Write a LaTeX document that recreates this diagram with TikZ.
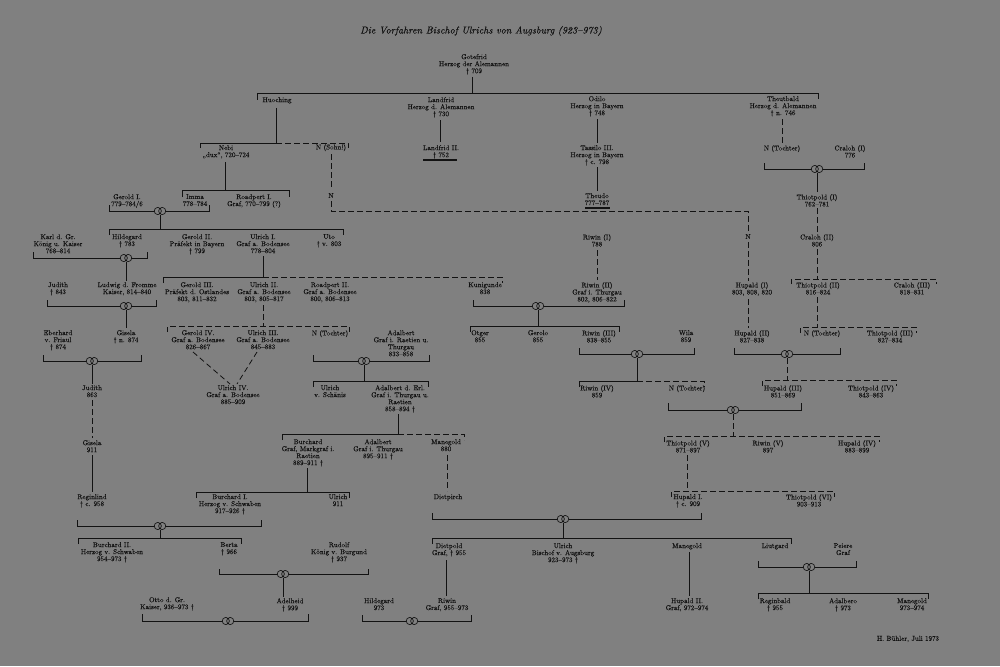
\documentclass[tikz,border=0pt]{standalone}
\usepackage{fontspec}
\newfontfamily\pf[FakeBold=0.3]{lmroman10-regular.otf}
\newfontfamily\pfi[FakeBold=0.2]{lmroman10-italic.otf}
\begin{document}
\begin{tikzpicture}[x=1pt,y=-1pt]
\definecolor{bg}{RGB}{128,128,128}
\definecolor{ink}{RGB}{18,18,18}
\tikzset{
  t/.style={anchor=north, align=center, inner sep=0pt, text=ink, yshift=3pt,
    font=\pf\fontsize{7}{7}\selectfont},
  ln/.style={draw=ink, line width=0.8pt},
  dsh/.style={draw=ink, line width=0.8pt, dash pattern=on 5.5pt off 3.5pt},
  ext/.style={draw=ink, line width=1.8pt},
  marr/.pic={
    \fill[bg] (-2.2,0) circle[radius=3.6pt] (2.2,0) circle[radius=3.6pt];
    \draw[ink,line width=0.65pt] (-2.2,0) circle[radius=3.6pt] (2.2,0) circle[radius=3.6pt];
  }
}
\fill[bg] (0,0) rectangle (1000,666);
\useasboundingbox (0,0) rectangle (1000,666);

\node[text=ink, font=\pfi\fontsize{10}{12}\selectfont] (title) at (481,31)
  {Die Vorfahren Bischof Ulrichs von Augsburg (923–973)};

% ---------- persons ----------
\node[t] (gotefrid) at (474,57) {Gotefrid\\Herzog der Alemannen\\† 709};
\node[t] (huoching) at (277,100) {Huoching};
\node[t] (nebi) at (226,148) {Nebi\\„dux“, 720–724};
\node[t] (nsohn) at (331,147) {N (Sohn!)};
\node[t] (n1) at (331,196) {N};
\node[t] (landfrid) at (441,100) {Landfrid\\Herzog d. Alemannen\\† 730};
\node[t] (landfrid2) at (441,148) {Landfrid II.\\† 752};
\node[t] (odilo) at (597,99) {Odilo\\Herzog in Bayern\\† 748};
\node[t] (tassilo) at (597,148) {Tassilo III.\\Herzog in Bayern\\† c. 798};
\node[t] (theudo) at (597,196) {Theudo\\777–787};
\node[t] (theutbald) at (783,99) {Theutbald\\Herzog d. Alemannen\\† n. 746};
\node[t] (ntochter1) at (782,148) {N (Tochter)};
\node[t] (craloh1) at (850,148) {Craloh (I)\\776};
\node[t] (thiot1) at (817,197) {Thiotpold (I)\\762–781};
\node[t] (imma) at (195,197) {Imma\\778–784};
\node[t] (gerold1) at (127,197) {Gerold I.\\779–784/6};
\node[t] (roadpert1) at (254,197) {Roadpert I.\\Graf, 770–799 (?)};
\node[t] (karl) at (58,237) {Karl d. Gr.\\König u. Kaiser\\768–814};
\node[t] (hildegard) at (127,237) {Hildegard\\† 783};
\node[t] (gerold2) at (197,237) {Gerold II.\\Präfekt in Bayern\\† 799};
\node[t] (ulrich1) at (263,237) {Ulrich I.\\Graf a. Bodensee\\778–804};
\node[t] (uto) at (329,237) {Uto\\† v. 803};
\node[t] (n2) at (748,237) {N};
\node[t] (riwin1) at (597,237) {Riwin (I)\\788};
\node[t] (craloh2) at (817,237) {Craloh (II)\\806};
\node[t] (judith1) at (58,285) {Judith\\† 843};
\node[t] (ludwig) at (127,285) {Ludwig d. Fromme\\Kaiser, 814–840};
\node[t] (gerold3) at (197,285) {Gerold III.\\Präfekt d. Ostlandes\\803, 811–832};
\node[t] (ulrich2) at (264,285) {Ulrich II.\\Graf a. Bodensee\\803, 805–817};
\node[t] (roadpert2) at (330,285) {Roadpert II.\\Graf a. Bodensee\\800, 806–813};
\node[t] (kunigunde) at (485,285) {Kunigunde\\838};
\node[t] (riwin2) at (597,285) {Riwin (II)\\Graf i. Thurgau\\802, 806–822};
\node[t] (hupald1) at (752,285) {Hupald (I)\\803, 808, 820};
\node[t] (thiot2) at (818,285) {Thiotpold (II)\\816–824};
\node[t] (craloh3) at (912,285) {Craloh (III)\\818–831};
\node[t] (eberhard) at (58,333) {Eberhard\\v. Friaul\\† 874};
\node[t] (gisela1) at (126,333) {Gisela\\† n. 874};
\node[t] (gerold4) at (198,333) {Gerold IV.\\Graf a. Bodensee\\826–867};
\node[t] (ulrich3) at (263,333) {Ulrich III.\\Graf a. Bodensee\\845–883};
\node[t] (ntochter2) at (330,333) {N (Tochter)};
\node[t] (adalbert1) at (401,333) {Adalbert\\Graf i. Raetien u.\\Thurgau\\833–858};
\node[t] (otger) at (480,333) {Otger\\855};
\node[t] (gerolo) at (538,333) {Gerolo\\855};
\node[t] (riwin3) at (599,333) {Riwin (III)\\838–855};
\node[t] (wila) at (686,333) {Wila\\859};
\node[t] (hupald2) at (752,333) {Hupald (II)\\827–838};
\node[t] (ntochter3) at (822,333) {N (Tochter)};
\node[t] (thiot3) at (890,333) {Thiotpold (III)\\827–834};
\node[t] (judith2) at (92,388) {Judith\\863};
\node[t] (ulrich4) at (233,388) {Ulrich IV.\\Graf a. Bodensee\\885–909};
\node[t] (ulrich5) at (330,388) {Ulrich\\v. Schänis};
\node[t] (adalbert2) at (400,388) {Adalbert d. Erl.\\Graf i. Thurgau u.\\Raetien\\858–894 †};
\node[t] (riwin4) at (597,388) {Riwin (IV)\\859};
\node[t] (ntochter4) at (687,388) {N (Tochter)};
\node[t] (hupald3) at (783,388) {Hupald (III)\\851–869};
\node[t] (thiot4) at (871,388) {Thiotpold (IV)\\843–863};
\node[t] (gisela2) at (92,443) {Gisela\\911};
\node[t] (burchard) at (308,442) {Burchard\\Graf, Markgraf i.\\Raetien\\889–911 †};
\node[t] (adalbert3) at (378,442) {Adalbert\\Graf i. Thurgau\\895–911 †};
\node[t] (manegold1) at (446,442) {Manegold\\880};
\node[t] (thiot5) at (688,443) {Thiotpold (V)\\871–897};
\node[t] (riwin5) at (768,443) {Riwin (V)\\897};
\node[t] (hupald4) at (857,443) {Hupald (IV)\\883–899};
\node[t] (reginlind) at (92,497) {Reginlind\\† c. 958};
\node[t] (burchard1) at (230,497) {Burchard I.\\Herzog v. Schwaben\\917–926 †};
\node[t] (ulrich6) at (338,497) {Ulrich\\911};
\node[t] (dietpirch) at (448,497) {Dietpirch};
\node[t] (hupaldI) at (688,497) {Hupald I.\\† c. 909};
\node[t] (thiot6) at (809,497) {Thiotpold (VI)\\903–913};
\node[t] (burchard2) at (112,545) {Burchard II.\\Herzog v. Schwaben\\954–973 †};
\node[t] (berta) at (229,545) {Berta\\† 966};
\node[t] (rudolf) at (339,545) {Rudolf\\König v. Burgund\\† 937};
\node[t] (dietpold) at (449,546) {Dietpold\\Graf, † 955};
\node[t] (ulrichB) at (563,546) {Ulrich\\Bischof v. Augsburg\\923–973 †};
\node[t] (manegold2) at (687,546) {Manegold};
\node[t] (liutgard) at (775,546) {Liutgard};
\node[t] (peiere) at (843,546) {Peiere\\Graf};
\node[t] (otto) at (167,600) {Otto d. Gr.\\Kaiser, 936–973 †};
\node[t] (adelheid) at (290,601) {Adelheid\\† 999};
\node[t] (hildegard2) at (379,601) {Hildegard\\973};
\node[t] (riwin6) at (447,601) {Riwin\\Graf, 955–973};
\node[t] (hupaldII) at (687,601) {Hupald II.\\Graf, 972–974};
\node[t] (reginbald) at (775,601) {Reginbald\\† 955};
\node[t] (adalbero) at (843,601) {Adalbero\\† 973};
\node[t] (manegold3) at (912,601) {Manegold\\973–974};
\node[t, anchor=center, yshift=0pt] (buehler) at (908,642) {H. Bühler, Juli 1973};

% ---------- lines ----------
\draw[ln] (472,77) -- (472,93);
\draw[ln] (257,100) -- (257,93) -- (818,93) -- (818,99);
\draw[ln] (276,108) -- (276,143);
\draw[ln] (200,148) -- (200,143) -- (276,143);
\draw[dsh] (276,143) -- (348,143) -- (348,148);
\draw[dsh] (331,154) -- (331,190);
\draw[dsh] (331,201) -- (331,211) -- (748,211) -- (748,231);
\draw[dsh] (748,242) -- (748,281);
\draw[dsh] (748,299) -- (748,328);
\draw[ln] (440,120) -- (440,142);
\draw[ext] (423,160) -- (457,160);
\draw[ln] (597,119) -- (597,143);
\draw[ln] (597,167) -- (597,191);
\draw[ext] (585,208) -- (610,208);
\draw[dsh] (782,119) -- (782,143);
\draw[ln] (764,163) -- (764,169) -- (864,169) -- (864,163);
\draw[ln] (817,173) -- (817,192);
\draw[dsh] (817,208) -- (817,232);
\draw[dsh] (817,249) -- (817,279);
\draw[dsh] (791,284) -- (791,279) -- (936,279) -- (936,284);
\draw[dsh] (817,297) -- (817,327);
\draw[dsh] (800,333) -- (800,327) -- (916,327) -- (916,333);
\draw[ln] (734,348) -- (734,354) -- (840,354) -- (840,348);
\draw[dsh] (787,358) -- (787,380);
\draw[dsh] (762,386) -- (762,380) -- (896,380) -- (896,386);
\draw[ln] (668,403) -- (668,410) -- (801,410) -- (801,403);
\draw[dsh] (733,414) -- (733,436);
\draw[dsh] (664,442) -- (664,436) -- (879,436) -- (879,442);
\draw[dsh] (687,455) -- (687,491);
\draw[dsh] (671,497) -- (671,491) -- (834,491) -- (834,497);
\draw[ln] (432,513) -- (432,519) -- (701,519) -- (701,513);
\draw[ln] (563,523) -- (563,538);
\draw[ln] (432,544) -- (432,538) -- (791,538) -- (791,544);
\draw[dsh] (447,455) -- (447,491);
\draw[ln] (446,560) -- (446,596);
\draw[ln] (362,615) -- (362,621) -- (471,621) -- (471,615);
\draw[ln] (689,552) -- (689,596);
\draw[ln] (758,561) -- (758,567) -- (856,567) -- (856,561);
\draw[ln] (809,571) -- (809,593);
\draw[ln] (758,599) -- (758,593) -- (928,593) -- (928,599);
\draw[dsh] (597,250) -- (597,280);
\draw[ln] (473,300) -- (473,306) -- (624,306) -- (624,300);
\draw[ln] (538,310) -- (538,326);
\draw[ln] (470,332) -- (470,326) -- (619,326) -- (619,332);
\draw[ln] (579,348) -- (579,354) -- (694,354) -- (694,348);
\draw[ln] (637,358) -- (637,381);
\draw[ln] (579,387) -- (579,381) -- (637,381);
\draw[dsh] (637,381) -- (704,381) -- (704,387);
\draw[ln] (225,162) -- (225,190);
\draw[ln] (182,197) -- (182,190) -- (289,190) -- (289,197);
\draw[ln] (109,205) -- (109,211) -- (209,211) -- (209,205);
\draw[ln] (160,215) -- (160,229);
\draw[ln] (109,235) -- (109,229) -- (343,229) -- (343,235);
\draw[ln] (33,252) -- (33,258) -- (147,258) -- (147,252);
\draw[ln] (126,262) -- (126,281);
\draw[ln] (47,300) -- (47,306) -- (156,306) -- (156,300);
\draw[ln] (126,310) -- (126,328);
\draw[ln] (43,355) -- (43,361) -- (141,361) -- (141,355);
\draw[ln] (92,365) -- (92,384);
\draw[dsh] (92,400) -- (92,438);
\draw[ln] (92,455) -- (92,492);
\draw[ln] (77,520) -- (77,526) -- (261,526) -- (261,520);
\draw[ln] (160,530) -- (160,538);
\draw[ln] (78,544) -- (78,538) -- (241,538) -- (241,544);
\draw[ln] (219,569) -- (219,574) -- (368,574) -- (368,569);
\draw[ln] (283,578) -- (283,597);
\draw[ln] (142,614) -- (142,621) -- (308,621) -- (308,614);
\draw[ln] (263,256) -- (263,277);
\draw[ln] (163,283) -- (163,277) -- (263,277);
\draw[dsh] (263,277) -- (502,277) -- (502,283);
\draw[dsh] (263,305) -- (263,326);
\draw[dsh] (167,332) -- (167,326) -- (349,326) -- (349,332);
\draw[dsh] (193,352) -- (230,384);
\draw[dsh] (257,352) -- (237,384);
\draw[ln] (313,355) -- (313,361) -- (429,361) -- (429,355);
\draw[ln] (364,365) -- (364,381);
\draw[ln] (313,387) -- (313,381) -- (428,381) -- (428,387);
\draw[ln] (398,414) -- (398,434);
\draw[ln] (282,440) -- (282,434) -- (398,434);
\draw[dsh] (398,434) -- (464,434) -- (464,440);
\draw[ln] (307,468) -- (307,492);
\draw[ln] (196,498) -- (196,492) -- (349,492) -- (349,498);

% ---------- marriage symbols ----------
\pic (m1) at (817,169) {marr};
\pic (m2) at (787,354) {marr};
\pic (m3) at (733,410) {marr};
\pic (m4) at (563,519) {marr};
\pic (m5) at (412,621) {marr};
\pic (m6) at (809,567) {marr};
\pic (m7) at (538,306) {marr};
\pic (m8) at (637,354) {marr};
\pic (m9) at (160,211) {marr};
\pic (m10) at (126,258) {marr};
\pic (m11) at (126,306) {marr};
\pic (m12) at (92,361) {marr};
\pic (m13) at (160,526) {marr};
\pic (m14) at (283,574) {marr};
\pic (m15) at (228,621) {marr};
\pic (m16) at (364,361) {marr};
\end{tikzpicture}
\end{document}
